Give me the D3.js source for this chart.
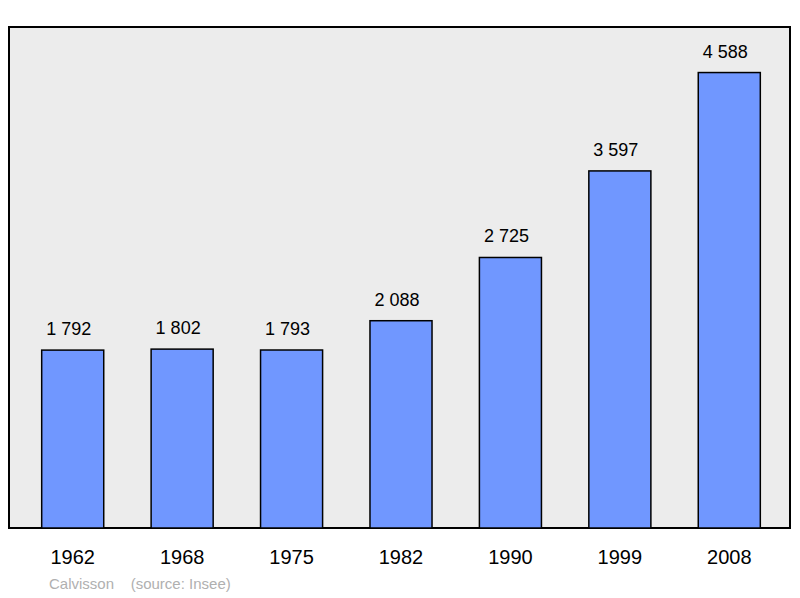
<!DOCTYPE html>
<html><head><meta charset="utf-8">
<script src="https://cdn.jsdelivr.net/npm/d3@7"></script>
<style>body{margin:0;background:#fff}</style>
</head><body>
<svg id="chart" width="800" height="598"></svg>
<script>
const years = ["1962", "1968", "1975", "1982", "1990", "1999", "2008"];
const population = [1792, 1802, 1793, 2088, 2725, 3597, 4588];
const labels = ["1 792", "1 802", "1 793", "2 088", "2 725", "3 597", "4 588"];

const svg = d3.select("#chart");
const plot = { left: 9, top: 27, right: 790, bottom: 528 };

svg.append("rect")
    .attr("x", plot.left).attr("y", plot.top)
    .attr("width", plot.right - plot.left).attr("height", plot.bottom - plot.top)
    .attr("fill", "#ececec").attr("stroke", "#000").attr("stroke-width", 2);

const x = d3.scaleBand().domain(years).range([18, 784]).paddingInner(0.433).paddingOuter(0.2165);
const y = d3.scaleLinear().domain([0, 4588 * 1.1]).range([plot.bottom, plot.top]);

const data = years.map((yr, i) => ({ yr, v: population[i], label: labels[i] }));

svg.selectAll(".bar").data(data).enter().append("rect")
    .attr("x", d => x(d.yr)).attr("y", d => y(d.v))
    .attr("width", x.bandwidth()).attr("height", d => plot.bottom - y(d.v))
    .attr("fill", "#7097ff").attr("stroke", "#000").attr("stroke-width", 1.5);

svg.selectAll(".val").data(data).enter().append("text")
    .attr("x", d => x(d.yr) + x.bandwidth() / 2 - 4).attr("y", d => y(d.v) - 15)
    .attr("text-anchor", "middle").attr("font-family", "Liberation Sans, Arial, sans-serif")
    .attr("font-size", 18).text(d => d.label);

svg.selectAll(".yr").data(data).enter().append("text")
    .attr("x", d => x(d.yr) + x.bandwidth() / 2).attr("y", 564)
    .attr("text-anchor", "middle").attr("font-family", "Liberation Sans, Arial, sans-serif")
    .attr("font-size", 20).text(d => d.yr);

svg.append("text").attr("x", 49).attr("y", 589)
    .attr("font-family", "Liberation Sans, Arial, sans-serif").attr("font-size", 15)
    .attr("fill", "#b0b0b0").attr("xml:space", "preserve")
    .text("Calvisson    (source: Insee)");
</script>
</body></html>
